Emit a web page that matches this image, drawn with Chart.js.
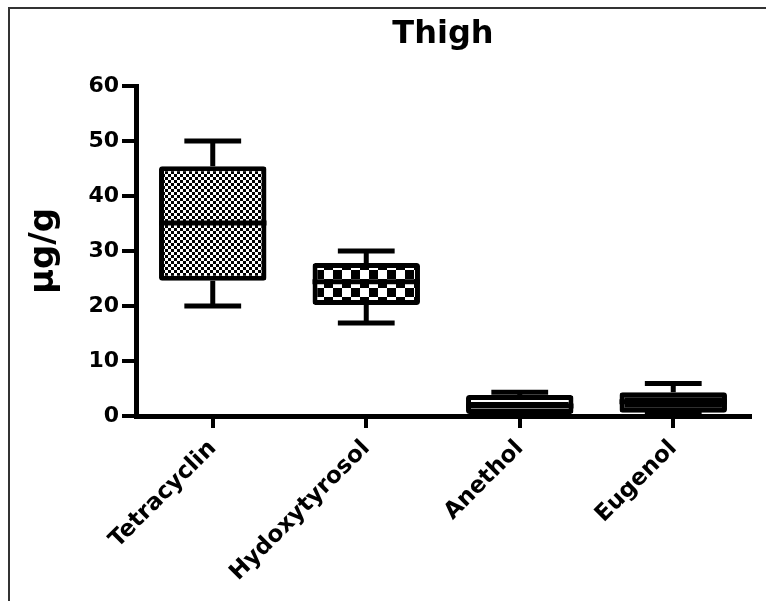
<!DOCTYPE html>
<html>
<head>
<meta charset="utf-8">
<script src="https://cdn.jsdelivr.net/npm/chart.js@4"></script>
<style>
  html, body { margin: 0; padding: 0; background: #fff; }
  #wrap { width: 766px; height: 601px; }
</style>
</head>
<body>
<div id="wrap"><canvas id="chart" width="766" height="601"></canvas></div>
<script>
const categories = ["Tetracyclin", "Hydoxytyrosol", "Anethol", "Eugenol"];
const minValues = [20, 16.9, 0, 0.3];
const q1Values = [24.6, 20.2, 0, 0.6];
const medianValues = [35.1, 24.4, 1.8, 2.6];
const q3Values = [45.4, 27.8, 3.8, 4.3];
const maxValues = [50, 30, 4.3, 5.9];
const yTicks = [0, 10, 20, 30, 40, 50, 60];

const FONT = "'DejaVu Sans', sans-serif";

// fill patterns for the boxes
const makePattern = (w, h, draw) => {
  const c = document.createElement("canvas");
  c.width = w;
  c.height = h;
  const g = c.getContext("2d");
  draw(g);
  return g.createPattern(c, "repeat");
};
const finePattern = makePattern(6, 6, g => {
  g.fillStyle = "#fff"; g.fillRect(0, 0, 6, 6);
  g.fillStyle = "#000"; g.fillRect(0, 0, 3, 3); g.fillRect(3, 3, 3, 3);
});
const checkPattern = makePattern(18, 18, g => {
  g.fillStyle = "#fff"; g.fillRect(0, 0, 18, 18);
  g.fillStyle = "#000"; g.fillRect(9, 0, 9, 9); g.fillRect(0, 9, 9, 9);
});
const linePattern = makePattern(8, 8, g => {
  g.fillStyle = "#000"; g.fillRect(0, 0, 8, 8);
  g.fillStyle = "#fff"; g.fillRect(0, 0, 8, 2);
});
const dashPattern = makePattern(8, 8, g => {
  g.fillStyle = "#000"; g.fillRect(0, 0, 8, 8);
  g.fillStyle = "#fff"; g.fillRect(1, 0, 5, 3);
});

const frame = {
  id: "frame",
  beforeDraw(chart) {
    const ctx = chart.ctx;
    ctx.save();
    ctx.fillStyle = "#fff";
    ctx.fillRect(0, 0, chart.width, chart.height);
    ctx.strokeStyle = "#333";
    ctx.lineWidth = 2;
    ctx.beginPath();
    ctx.moveTo(9, chart.height);
    ctx.lineTo(9, 8);
    ctx.lineTo(chart.width, 8);
    ctx.stroke();
    ctx.restore();
  }
};

// whiskers under the boxes, medians on top
const boxParts = {
  id: "boxParts",
  beforeDatasetsDraw(chart) {
    const { ctx, scales: { x, y } } = chart;
    const step = x.getPixelForValue(1) - x.getPixelForValue(0);
    const half = step * 0.37 / 2;
    ctx.save();
    ctx.strokeStyle = "#000";
    ctx.lineWidth = 5;
    categories.forEach((c, i) => {
      const cx = x.getPixelForValue(i);
      ctx.beginPath();
      ctx.moveTo(cx, y.getPixelForValue(minValues[i]));
      ctx.lineTo(cx, y.getPixelForValue(q1Values[i]));
      ctx.moveTo(cx, y.getPixelForValue(q3Values[i]));
      ctx.lineTo(cx, y.getPixelForValue(maxValues[i]));
      ctx.moveTo(cx - half, y.getPixelForValue(minValues[i]));
      ctx.lineTo(cx + half, y.getPixelForValue(minValues[i]));
      ctx.moveTo(cx - half, y.getPixelForValue(maxValues[i]));
      ctx.lineTo(cx + half, y.getPixelForValue(maxValues[i]));
      ctx.stroke();
    });
    ctx.restore();
  },
  afterDatasetsDraw(chart) {
    const { ctx, scales: { y } } = chart;
    const bars = chart.getDatasetMeta(0).data;
    ctx.save();
    ctx.strokeStyle = "#000";
    ctx.lineWidth = 5;
    bars.forEach((bar, i) => {
      const my = y.getPixelForValue(medianValues[i]);
      ctx.beginPath();
      ctx.moveTo(bar.x - bar.width / 2, my);
      ctx.lineTo(bar.x + bar.width / 2, my);
      ctx.stroke();
    });
    ctx.restore();
  }
};

new Chart(document.getElementById("chart"), {
  type: "bar",
  data: {
    labels: categories,
    datasets: [{
      data: categories.map((c, i) => [q1Values[i], q3Values[i]]),
      backgroundColor: [finePattern, checkPattern, linePattern, dashPattern],
      borderColor: "#000",
      borderWidth: 5,
      borderRadius: 3,
      borderSkipped: false,
      barPercentage: 0.7,
      categoryPercentage: 1
    }]
  },
  options: {
    responsive: false,
    animation: false,
    layout: { padding: { top: 8, right: 16, left: 0, bottom: 0 } },
    plugins: {
      legend: { display: false },
      tooltip: { enabled: false },
      title: {
        display: true,
        text: "Thigh",
        fullSize: false,
        color: "#000",
        font: { family: FONT, size: 32, weight: "bold" },
        padding: { top: 7, bottom: 32.6 }
      }
    },
    scales: {
      x: {
        offset: true,
        border: { color: "#000", width: 5 },
        grid: { offset: false, drawOnChartArea: false, color: "#000", lineWidth: 4, tickLength: 12 },
        ticks: {
          color: "#000",
          autoSkip: false,
          minRotation: 45,
          maxRotation: 45,
          padding: 7,
          font: { family: FONT, size: 23, weight: "bold" }
        },
        afterFit: s => { s.height = 185; }
      },
      y: {
        min: yTicks[0],
        max: yTicks[yTicks.length - 1],
        border: { color: "#000", width: 5 },
        grid: { drawOnChartArea: false, color: "#000", lineWidth: 4, tickLength: 14 },
        ticks: {
          color: "#000",
          padding: 3,
          font: { family: FONT, size: 22, weight: "bold" }
        },
        afterBuildTicks: s => { s.ticks = yTicks.map(v => ({ value: v })); },
        title: {
          display: true,
          text: "µg/g",
          color: "#000",
          font: { family: FONT, size: 34, weight: "bold" },
          padding: { top: 24, bottom: 0 }
        },
        afterFit: s => { s.width = 136; }
      }
    }
  },
  plugins: [frame, boxParts]
});
</script>
</body>
</html>
